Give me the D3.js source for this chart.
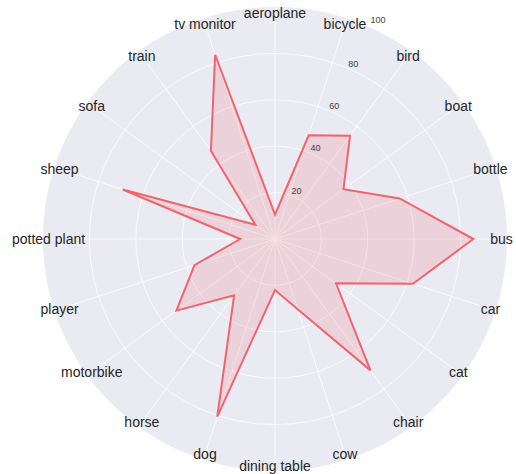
<!DOCTYPE html>
<html>
<head>
<meta charset="utf-8">
<script src="https://cdn.jsdelivr.net/npm/d3@7"></script>
<style>
  html, body { margin: 0; padding: 0; background: #ffffff; }
  svg { display: block; }
</style>
</head>
<body>
<svg id="chart" width="516" height="474"></svg>
<script>
const categories = ["aeroplane", "bicycle", "bird", "boat", "bottle", "bus", "car", "cat", "chair", "cow",
  "dining table", "dog", "horse", "motorbike", "player", "potted plant", "sheep", "sofa", "train", "tv monitor"];
const values = [10.5, 47, 55, 36.5, 56.5, 85.5, 62.5, 32.5, 70, 32,
  22, 80.5, 30, 52.5, 36.5, 15, 69, 10.5, 47, 83.5];
const radialTicks = [20, 40, 60, 80, 100];

const W = 516, H = 474;
const cx = 275, cy = 239, R = 232;
const svg = d3.select("#chart");
const g = svg.append("g").attr("transform", `translate(${cx},${cy})`);

const r = d3.scaleLinear().domain([0, 100]).range([0, R]);
const angle = d3.scaleBand().domain(categories).range([0, 2 * Math.PI]).paddingInner(0).paddingOuter(0).align(0);
const ang = c => angle(c);

// background disc
g.append("circle").attr("r", R).attr("fill", "rgb(234,234,242)");

// ring grid
g.selectAll("circle.ring").data(radialTicks.filter(t => t < 100)).join("circle")
  .attr("class", "ring").attr("r", d => r(d))
  .attr("fill", "none").attr("stroke", "#ffffff").attr("stroke-width", 0.8);

// spokes
g.selectAll("line.spoke").data(categories).join("line")
  .attr("class", "spoke")
  .attr("x1", 0).attr("y1", 0)
  .attr("x2", d => R * Math.sin(ang(d)))
  .attr("y2", d => -R * Math.cos(ang(d)))
  .attr("stroke", "#ffffff").attr("stroke-width", 0.8);

// data
const pts = categories.map((c, i) => ({ c, v: values[i] }));
const line = d3.lineRadial()
  .angle(d => ang(d.c))
  .radius(d => r(d.v))
  .curve(d3.curveLinearClosed);

const lineColor = "rgb(241,100,110)";
g.append("path").datum(pts)
  .attr("d", line)
  .attr("fill", lineColor).attr("fill-opacity", 0.18).attr("stroke", "none");
g.append("path").datum(pts)
  .attr("d", line)
  .attr("fill", "none").attr("stroke", lineColor).attr("stroke-width", 2)
  .attr("stroke-linejoin", "miter");

// radial tick labels
const tickAng = 24 * Math.PI / 180;
g.selectAll("text.rtick").data(radialTicks).join("text")
  .attr("class", "rtick")
  .attr("x", d => (r(d) + 6.5) * Math.sin(tickAng) + (d === 100 ? 6 : 0))
  .attr("y", d => -(r(d) + 6.5) * Math.cos(tickAng) + (d === 100 ? -1 : 0))
  .attr("text-anchor", "middle")
  .attr("dominant-baseline", "central")
  .attr("font-family", "'Liberation Sans', Arial, sans-serif")
  .attr("font-size", 9)
  .attr("fill", "#444444")
  .text(d => d);

// category labels
const LR = 226.5;
g.selectAll("text.cat").data(categories).join("text")
  .attr("class", "cat")
  .attr("x", d => LR * Math.sin(ang(d)))
  .attr("y", d => -LR * Math.cos(ang(d)))
  .attr("text-anchor", "middle")
  .attr("dominant-baseline", "central")
  .attr("font-family", "'Liberation Sans', Arial, sans-serif")
  .attr("font-size", 14)
  .attr("fill", "#262626")
  .text(d => d);
</script>
</body>
</html>
